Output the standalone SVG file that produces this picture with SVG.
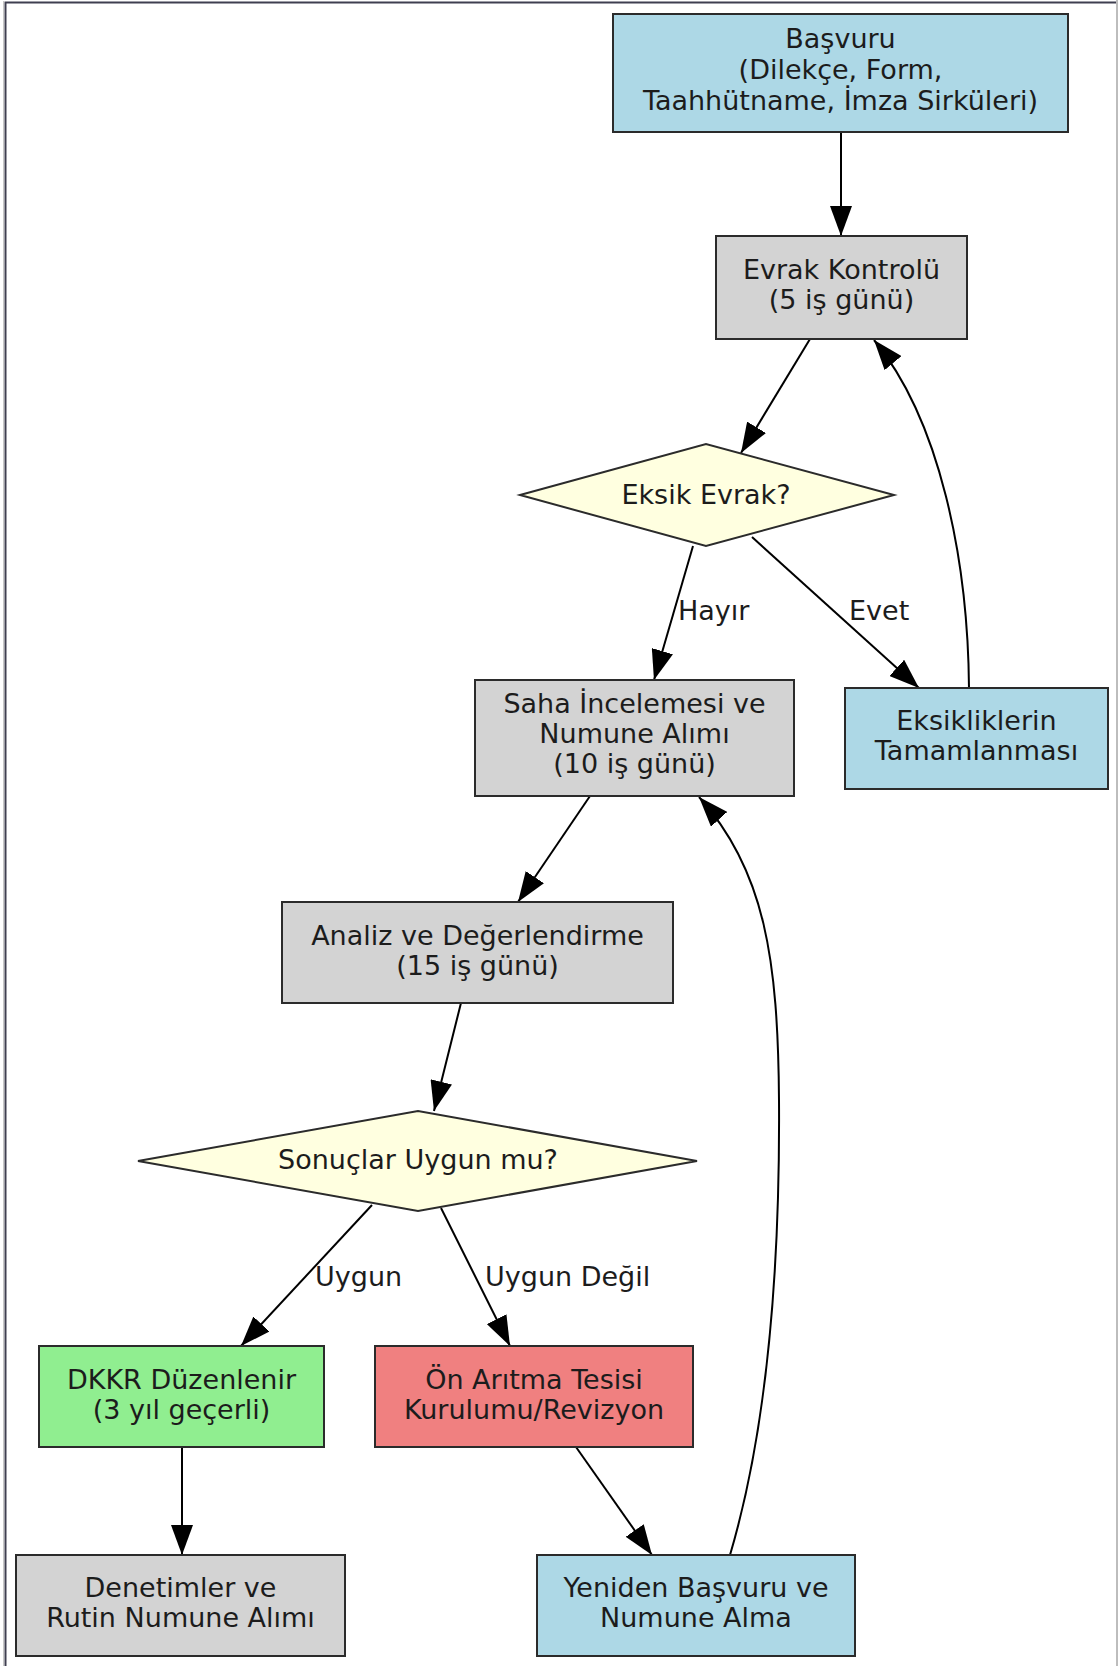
<svg xmlns="http://www.w3.org/2000/svg" width="1118" height="1666" viewBox="0 0 1118 1666">
<defs>
<marker id="ah" markerUnits="userSpaceOnUse" markerWidth="30" markerHeight="22" refX="30" refY="11" orient="auto">
<path d="M0,0 L30,11 L0,22 z" fill="#000"/>
</marker>
<style>
.n{stroke:#2b2b2b;stroke-width:2}
.blue{fill:#add8e6}
.grey{fill:#d3d3d3}
.yellow{fill:#ffffe0}
.green{fill:#90ee90}
.red{fill:#f08080}
text{font-family:"DejaVu Sans","Liberation Sans",sans-serif;font-size:27px;fill:#1c1c1c;text-anchor:middle}
.lbl{text-anchor:start}
.e{fill:none;stroke:#000;stroke-width:2;marker-end:url(#ah)}
</style>
</defs>
<rect width="1118" height="1666" fill="#fff"/>
<path d="M3.5,1666 L3.5,1" stroke="#c8c8c8" stroke-width="1" fill="none"/>
<path d="M5.5,1666 L5.5,2.5 L1118,2.5" stroke="#3f3f50" stroke-width="2" fill="none"/>
<path d="M1117,0 L1117,1666" stroke="#bdbdbd" stroke-width="2" fill="none"/>

<g id="edges">
<path class="e" d="M841,132 L841,236"/>
<path class="e" d="M810,339 L741,453"/>
<path class="e" d="M693,546 L654,680"/>
<path class="e" d="M752,537 L919,688"/>
<path class="e" d="M969,688 C968,560 940,420 874,340"/>
<path class="e" d="M590,796 L518,902"/>
<path class="e" d="M461,1003 L434,1111"/>
<path class="e" d="M372,1205 L241,1346"/>
<path class="e" d="M441,1208 L510,1346"/>
<path class="e" d="M182,1447 L182,1555"/>
<path class="e" d="M576,1447 L652,1555"/>
<path class="e" d="M730,1555 C770,1420 780,1250 779,1100 C778,960 765,870 699,797"/>
<text class="lbl" x="678" y="620">Hayır</text>
<text class="lbl" x="849" y="620">Evet</text>
<text class="lbl" x="315" y="1286">Uygun</text>
<text class="lbl" x="485" y="1286">Uygun Değil</text>
</g>

<g id="basvuru">
<rect class="n blue" x="613" y="14" width="455" height="118"/>
<text x="840.5" y="48">Başvuru</text>
<text x="840.5" y="79">(Dilekçe, Form,</text>
<text x="840.5" y="110">Taahhütname, İmza Sirküleri)</text>
</g>

<g id="evrak">
<rect class="n grey" x="716" y="236" width="251" height="103"/>
<text x="841.5" y="279">Evrak Kontrolü</text>
<text x="841.5" y="309">(5 iş günü)</text>
</g>

<g id="eksik">
<polygon class="n yellow" points="520,495 706,444 894,495 706,546"/>
<text x="706" y="504">Eksik Evrak?</text>
</g>

<g id="saha">
<rect class="n grey" x="475" y="680" width="319" height="116"/>
<text x="634.5" y="713">Saha İncelemesi ve</text>
<text x="634.5" y="743">Numune Alımı</text>
<text x="634.5" y="773">(10 iş günü)</text>
</g>

<g id="eksiklikler">
<rect class="n blue" x="845" y="688" width="263" height="101"/>
<text x="976.5" y="730">Eksikliklerin</text>
<text x="976.5" y="760">Tamamlanması</text>
</g>

<g id="analiz">
<rect class="n grey" x="282" y="902" width="391" height="101"/>
<text x="477.5" y="945">Analiz ve Değerlendirme</text>
<text x="477.5" y="975">(15 iş günü)</text>
</g>

<g id="sonuclar">
<polygon class="n yellow" points="138,1161 418,1111 697,1161 418,1211"/>
<text x="418" y="1169">Sonuçlar Uygun mu?</text>
</g>

<g id="dkkr">
<rect class="n green" x="39" y="1346" width="285" height="101"/>
<text x="181.5" y="1389">DKKR Düzenlenir</text>
<text x="181.5" y="1419">(3 yıl geçerli)</text>
</g>

<g id="onaritma">
<rect class="n red" x="375" y="1346" width="318" height="101"/>
<text x="534" y="1389">Ön Arıtma Tesisi</text>
<text x="534" y="1419">Kurulumu/Revizyon</text>
</g>

<g id="denetimler">
<rect class="n grey" x="16" y="1555" width="329" height="101"/>
<text x="180.5" y="1597">Denetimler ve</text>
<text x="180.5" y="1627">Rutin Numune Alımı</text>
</g>

<g id="yeniden">
<rect class="n blue" x="537" y="1555" width="318" height="101"/>
<text x="696" y="1597">Yeniden Başvuru ve</text>
<text x="696" y="1627">Numune Alma</text>
</g>
</svg>
